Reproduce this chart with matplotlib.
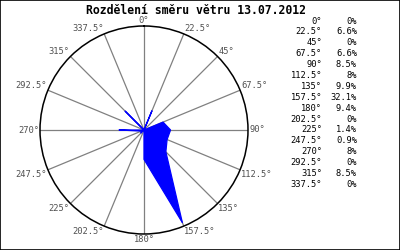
import numpy as np
import matplotlib
matplotlib.use("Agg")
import matplotlib.pyplot as plt
from matplotlib.patches import Rectangle

# Wind direction distribution, 13.07.2012
directions = [0, 22.5, 45, 67.5, 90, 112.5, 135, 157.5,
              180, 202.5, 225, 247.5, 270, 292.5, 315, 337.5]
shares = [0, 6.6, 0, 6.6, 8.5, 8, 9.9, 32.1,
          9.4, 0, 1.4, 0.9, 8, 0, 8.5, 0]
title = "Rozdělení směru větru 13.07.2012"

RMAX = 33.3
MONO = "DejaVu Sans Mono"

fig = plt.figure(figsize=(4, 2.5), dpi=100)
fig.patch.set_facecolor("white")
fig.patches.append(Rectangle((0, 0), 1, 1, transform=fig.transFigure,
                             fill=False, edgecolor="black", linewidth=1.2))

ax = fig.add_axes([0.10, 0.064, 0.52, 0.832], projection="polar")
ax.set_theta_zero_location("N")
ax.set_theta_direction(-1)
ax.set_ylim(0, RMAX)
ax.grid(False)
ax.set_xticks([])
ax.set_yticks([])
ax.spines["polar"].set_color("black")
ax.spines["polar"].set_linewidth(1.1)

theta = np.deg2rad(directions)

# spokes
for th in theta:
    ax.plot([th, th], [0, RMAX], color="#808080", linewidth=0.9, zorder=1)

# filled distribution polygon
th_closed = np.append(theta, theta[0])
r_closed = np.append(shares, shares[0])
ax.fill(th_closed, r_closed, color="#0000ff", zorder=3, linewidth=0)
ax.plot(th_closed, r_closed, color="#0000ff", linewidth=0.9, zorder=3)

# direction labels at the rim
for d, th in zip(directions, theta):
    if d in (0, 180):
        ha = "center"
    elif d < 180:
        ha = "left"
    else:
        ha = "right"
    if d in (90, 270):
        va = "center"
    elif d < 90 or d > 270:
        va = "bottom"
    else:
        va = "top"
    ax.text(th, RMAX * 1.01, f"{d:g}°", ha=ha, va=va, fontsize=6.3,
            family=MONO, color="#505050", zorder=5)

fig.text(0.49, 0.958, title, ha="center", va="center", fontsize=8.3,
         family=MONO, fontweight="bold", color="black")

# table on the right
y0, dy = 21, 10.9
for i, (d, s) in enumerate(zip(directions, shares)):
    y = 1 - (y0 + i * dy) / 250
    fig.text(0.805, y, f"{d:g}°", ha="right", va="center", fontsize=6.3,
             family=MONO, color="black")
    fig.text(0.8925, y, f"{s:g}%", ha="right", va="center", fontsize=6.3,
             family=MONO, color="black")

fig.savefig("out.png", dpi=100)
